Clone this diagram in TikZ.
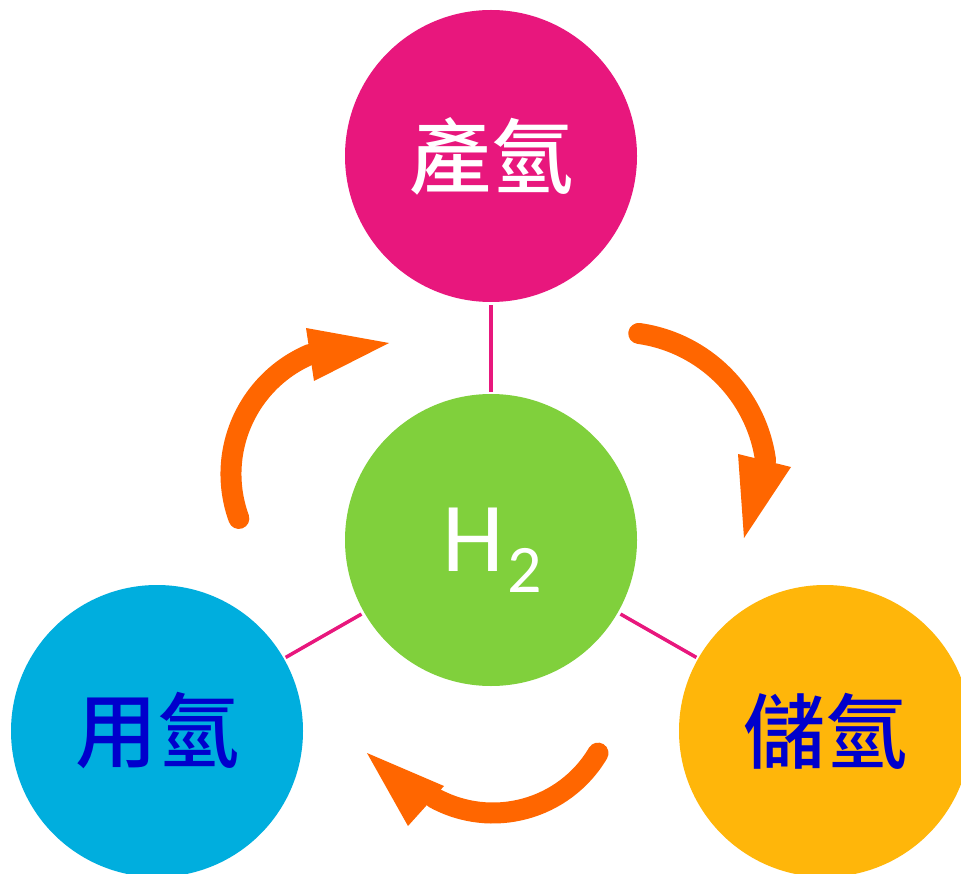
\documentclass[tikz,border=0pt]{standalone}
\usepackage{fontspec}
\newfontfamily\cjk{Noto Sans CJK TC Medium}
\newfontfamily\hfont{Carlito}
\definecolor{magentac}{RGB}{232,23,125}
\definecolor{greenc}{RGB}{128,208,60}
\definecolor{cyanc}{RGB}{0,174,222}
\definecolor{yellowc}{RGB}{255,182,10}
\definecolor{arrowc}{RGB}{255,102,0}
\definecolor{textblue}{RGB}{0,0,204}
\begin{document}
\begin{tikzpicture}[x=1pt,y=-1pt,
  circ/.style={circle, minimum size=292pt, inner sep=0pt, draw=none},
  cjklabel/.style={font=\cjk\fontsize{82}{90}\selectfont},
  conn/.style={draw=magentac, line width=3.5pt, shorten <=3pt, shorten >=2pt},
  arrowline/.style={draw=arrowc, line width=21pt, line cap=round},
  arrowhead/.style={fill=arrowc, draw=none}]
\useasboundingbox (0,0) rectangle (961,874);
\clip (0,0) rectangle (961,874);
\fill[white] (0,0) rectangle (961,874);
% circles
\node[circ, fill=magentac, cjklabel, text=white] (p) at (491,156) {產氫};
\node[circ, fill=greenc] (g) at (491,540) {};
\node[circ, fill=cyanc, cjklabel, text=textblue] (u) at (157,731) {用氫};
\node[circ, fill=yellowc, cjklabel, text=textblue] (s) at (825,731) {儲氫};
\node[anchor=base, text=white, inner sep=0pt] (h2) at (492,571)
  {\hfont\fontsize{99}{99}\selectfont H\kern3pt\raisebox{-21pt}{\fontsize{68}{68}\selectfont 2}};
% connectors
\draw[conn] (p) -- (g);
\draw[conn] (g) -- (u);
\draw[conn] (g) -- (s);
% curved arrows
\draw[arrowline] (618,481) ++(-82:149) arc[start angle=-82, end angle=-8, radius=149];
\fill[arrowhead] (738,454) -- (791,467) -- (744,538) -- cycle;
\draw[arrowline] (493,691) ++(30.6:122) arc[start angle=30.6, end angle=119, radius=122];
\fill[arrowhead] (444,786) -- (408,826) -- (367,753) -- cycle;
\draw[arrowline] (361,474) ++(160:130) arc[start angle=160, end angle=247, radius=130];
\fill[arrowhead] (306,328) -- (314,381) -- (389,343) -- cycle;
\end{tikzpicture}
\end{document}
